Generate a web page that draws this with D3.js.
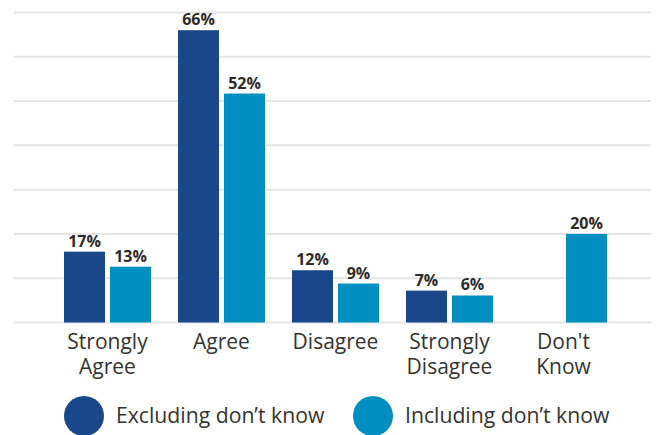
<!DOCTYPE html>
<html><head><meta charset="utf-8">
<script src="https://cdn.jsdelivr.net/npm/d3@7"></script>
<style>
html,body{margin:0;padding:0;background:#fff;}
text{font-family:"Open Sans",sans-serif;}
</style></head>
<body>
<svg id="chart" width="656" height="435"></svg>
<script>
const categories = [["Strongly","Agree"],["Agree"],["Disagree"],["Strongly","Disagree"],["Don't","Know"]];
const categoryKeys = ["Strongly Agree","Agree","Disagree","Strongly Disagree","Don't Know"];
const seriesNames = ["Excluding don\u2019t know","Including don\u2019t know"];
const excluding = [16, 66, 11.8, 7.2, null];
const including = [12.6, 51.7, 8.8, 6.1, 20];
const excludingLabels = ["17%","66%","12%","7%",""];
const includingLabels = ["13%","52%","9%","6%","20%"];
const yTicks = [0,10,20,30,40,50,60,70];
const colors = ["#1a478a","#008fc0"];

const svg = d3.select("#chart");
const y = d3.scaleLinear().domain([0,70]).range([322.5,12.5]);
const x0 = d3.scaleBand().domain(categoryKeys).range([50.5,620.5]).paddingInner(0.237).paddingOuter(0.1185);
const x1 = d3.scaleBand().domain(seriesNames).range([0,x0.bandwidth()]).paddingInner(0.109).paddingOuter(0);

svg.append("g").selectAll("line").data(yTicks).join("line")
  .attr("x1",14).attr("x2",651)
  .attr("y1",d=>y(d)).attr("y2",d=>y(d))
  .attr("stroke","#e5e5e5").attr("stroke-width",2);

const seriesData = [excluding, including];
const seriesLabels = [excludingLabels, includingLabels];
const data = [];
categoryKeys.forEach((c,i)=>{
  seriesNames.forEach((s,j)=>{
    if(seriesData[j][i]!=null) data.push({c, s, j, v: seriesData[j][i], l: seriesLabels[j][i]});
  });
});

svg.append("g").selectAll("rect").data(data).join("rect")
  .attr("x",d=>x0(d.c)+x1(d.s))
  .attr("width",x1.bandwidth())
  .attr("y",d=>y(d.v))
  .attr("height",d=>y(0)-y(d.v))
  .attr("fill",d=>colors[d.j]);

svg.append("g").selectAll("text").data(data).join("text")
  .attr("x",d=>x0(d.c)+x1(d.s)+x1.bandwidth()/2)
  .attr("y",d=>y(d.v)-5)
  .attr("text-anchor","middle")
  .attr("font-size",16).attr("font-weight","bold")
  .attr("fill","#2b2b2b")
  .text(d=>d.l);

const lab = svg.append("g").selectAll("text").data(categoryKeys).join("text")
  .attr("text-anchor","middle")
  .attr("font-size",21)
  .attr("fill","#333");
lab.each(function(d,i){
  const t = d3.select(this);
  categories[i].forEach((line,k)=>{
    t.append("tspan").attr("x",x0(d)+x0.bandwidth()/2).attr("y",349+k*24.5).text(line);
  });
});

const legendX = [84, 373];
const lg = svg.append("g").selectAll("g").data(seriesNames).join("g");
lg.append("circle").attr("cx",(d,i)=>legendX[i]).attr("cy",416).attr("r",20).attr("fill",(d,i)=>colors[i]);
lg.append("text").attr("x",(d,i)=>legendX[i]+32).attr("y",423)
  .attr("font-size",21.2).attr("fill","#333").text(d=>d);
</script>
</body></html>
